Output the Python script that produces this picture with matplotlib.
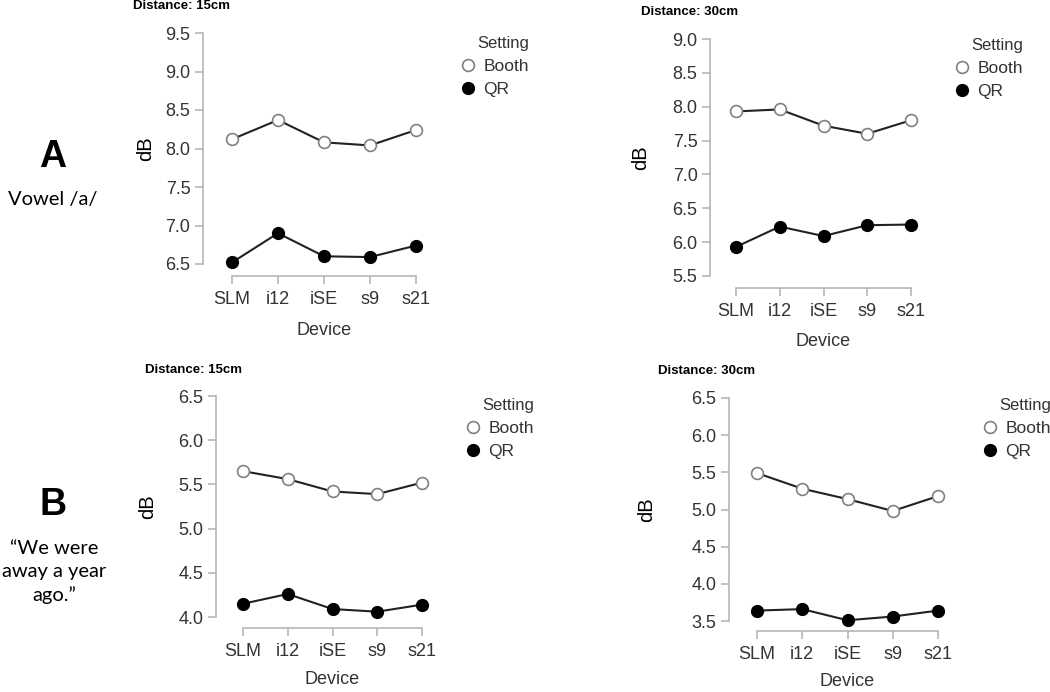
import matplotlib
matplotlib.use("Agg")
import matplotlib.pyplot as plt
from matplotlib.lines import Line2D

plt.rcParams['font.family'] = ['Liberation Sans', 'DejaVu Sans']

# ---------------- data ----------------
devices = ["SLM", "i12", "iSE", "s9", "s21"]
settings = ["Booth", "QR"]

booth_a15 = [8.12, 8.37, 8.08, 8.04, 8.24]
qr_a15 = [6.52, 6.90, 6.60, 6.59, 6.74]
booth_a30 = [7.93, 7.96, 7.72, 7.60, 7.80]
qr_a30 = [5.93, 6.23, 6.09, 6.25, 6.26]
booth_b15 = [5.65, 5.56, 5.42, 5.39, 5.52]
qr_b15 = [4.15, 4.26, 4.09, 4.06, 4.14]
booth_b30 = [5.49, 5.28, 5.14, 4.98, 5.18]
qr_b30 = [3.64, 3.66, 3.51, 3.56, 3.64]

yticks_a15 = [6.5, 7.0, 7.5, 8.0, 8.5, 9.0, 9.5]
yticks_a30 = [5.5, 6.0, 6.5, 7.0, 7.5, 8.0, 8.5, 9.0]
yticks_b15 = [4.0, 4.5, 5.0, 5.5, 6.0, 6.5]
yticks_b30 = [3.5, 4.0, 4.5, 5.0, 5.5, 6.0, 6.5]

titles = ["Distance: 15cm", "Distance: 30cm", "Distance: 15cm", "Distance: 30cm"]
row_letters = ["A", "B"]
row_captions = ["Vowel /a/", "\u201cWe were\naway a year\nago.\u201d"]

# ---------------- layout (pixels) ----------------
W, H = 1050, 692
fig = plt.figure(figsize=(W / 100, H / 100), dpi=100)


def fx(x):
    return x / W


def fy(y):
    return 1 - y / H


# left spine x, first cat x, last cat x, right edge, top tick px, low tick px, x-axis px
geoms = [
    dict(left=203, c0=232, c4=416, right=445, ytop=33, ylow=264, xaxis=276,
         title=(133, 6), leg=(461, 36), ylab=146, xlab=330),
    dict(left=710, c0=736, c4=911, right=940, ytop=39, ylow=276, xaxis=288,
         title=(641, 12), leg=(955, 38), ylab=641, xlab=342),
    dict(left=216, c0=243, c4=422, right=450, ytop=396, ylow=617, xaxis=628,
         title=(145, 370), leg=(466, 398), ylab=148, xlab=680),
    dict(left=729, c0=757, c4=938, right=965, ytop=398, ylow=621, xaxis=631,
         title=(658, 371), leg=(983, 398), ylab=647, xlab=682),
]
panels = [
    (booth_a15, qr_a15, yticks_a15),
    (booth_a30, qr_a30, yticks_a30),
    (booth_b15, qr_b15, yticks_b15),
    (booth_b30, qr_b30, yticks_b30),
]

spine_col = "#b0b0b0"
text_col = "#333333"
line_col = "#222222"

for g, (booth, qr, yt), title in zip(geoms, panels, titles):
    aw = g['right'] - g['left']
    ah = g['xaxis'] - g['ytop']
    ax = fig.add_axes([fx(g['left']), fy(g['xaxis']), aw / W, ah / H])
    ppi = (g['c4'] - g['c0']) / (len(devices) - 1)
    xl = -(g['c0'] - g['left']) / ppi
    xr = (len(devices) - 1) + (g['right'] - g['c4']) / ppi
    ax.set_xlim(xl, xr)
    ppd = (g['ylow'] - g['ytop']) / (yt[-1] - yt[0])
    ax.set_ylim(yt[-1] - ah / ppd, yt[-1])

    x = list(range(len(devices)))
    ax.plot(x, booth, color=line_col, lw=1.5, marker='o', ms=8.5,
            mfc='white', mec='#808080', mew=1.2, zorder=3, label=settings[0],
            clip_on=False)
    ax.plot(x, qr, color=line_col, lw=1.5, marker='o', ms=8.5,
            mfc='black', mec='black', zorder=3, label=settings[1], clip_on=False)

    for s in ['top', 'right']:
        ax.spines[s].set_visible(False)
    ax.spines['left'].set_bounds(yt[0], yt[-1])
    ax.spines['bottom'].set_bounds(0, len(devices) - 1)
    for s in ['left', 'bottom']:
        ax.spines[s].set_color(spine_col)
        ax.spines[s].set_linewidth(1.1)
    ax.set_yticks(yt)
    ax.set_yticklabels([f"{v:.1f}" for v in yt])
    ax.set_xticks(x)
    ax.set_xticklabels(devices)
    ax.tick_params(axis='both', direction='out', length=6, width=1.1,
                   color=spine_col, labelcolor=text_col, labelsize=13)
    ax.tick_params(axis='y', pad=3)
    ax.tick_params(axis='x', pad=5)
    ax.patch.set_alpha(0)

    ax.set_xlabel("Device", fontsize=13, color=text_col)
    ax.xaxis.set_label_coords(((g['c0'] + g['c4']) / 2 - g['left']) / aw,
                              (g['xaxis'] - g['xlab']) / ah)
    ax.xaxis.label.set_verticalalignment('center')
    ax.set_ylabel("dB", fontsize=14.5, color='black')
    ax.yaxis.set_label_coords((g['ylab'] - g['left']) / aw,
                              (g['xaxis'] - (g['ylow'] + g['ytop']) / 2) / ah)
    ax.yaxis.label.set_verticalalignment('center')

    fig.text(fx(g['title'][0]), fy(g['title'][1]), title, fontsize=9.5,
             fontweight='bold', ha='left', va='center', color='black')

    handles = [
        Line2D([], [], ls='none', marker='o', ms=8.5, mfc='white', mec='#808080', mew=1.2),
        Line2D([], [], ls='none', marker='o', ms=8.5, mfc='black', mec='black'),
    ]
    leg = ax.legend(handles, settings, title="Setting", loc='upper left',
                    bbox_to_anchor=(fx(g['leg'][0]), fy(g['leg'][1])),
                    bbox_transform=fig.transFigure, frameon=False, fontsize=12.5,
                    title_fontsize=12, borderpad=0, borderaxespad=0,
                    handlelength=0.8, handletextpad=0.5, labelspacing=0.45,
                    alignment='right')
    for t in leg.get_texts():
        t.set_color(text_col)
    leg.get_title().set_color(text_col)

# row labels
fig.text(fx(53), fy(157), row_letters[0], fontsize=27, fontweight='bold',
         ha='center', va='center')
fig.text(fx(53), fy(200), row_captions[0], fontsize=14.5, ha='center', va='center',
         family='Lato')
fig.text(fx(53), fy(505), row_letters[1], fontsize=27, fontweight='bold',
         ha='center', va='center')
fig.text(fx(54), fy(572), row_captions[1], fontsize=14.5, ha='center', va='center',
         family='Lato', linespacing=1.4)

fig.savefig("out.png", dpi=100)
